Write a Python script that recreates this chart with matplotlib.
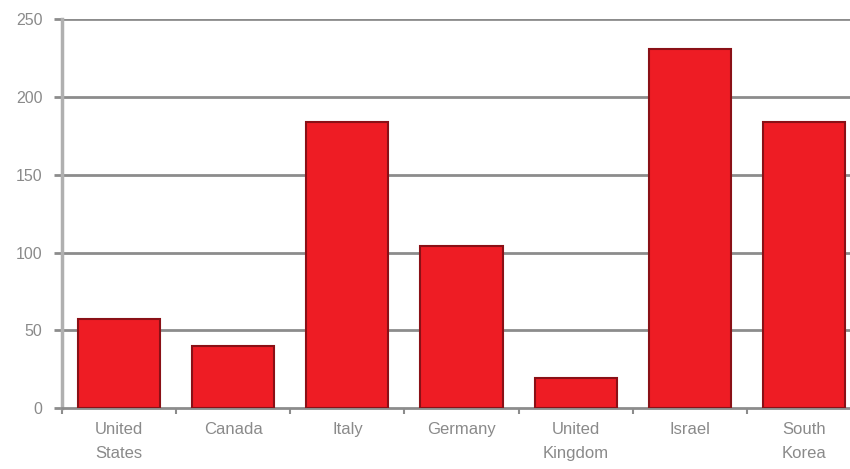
import numpy as np
import matplotlib
matplotlib.use("Agg")
import matplotlib.pyplot as plt

plt.rcParams['font.family'] = ['Liberation Sans', 'DejaVu Sans']

# 国家与数值
countries = ['United\nStates', 'Canada', 'Italy', 'Germany',
             'United\nKingdom', 'Israel', 'South\nKorea']
values = [57, 40, 184, 104, 19, 231, 184]
y_ticks = [0, 50, 100, 150, 200, 250]

bar_color = '#ee1c24'
edge_color = '#8a1016'
grid_color = '#8c8c8c'
text_color = '#8a8a8a'

fig = plt.figure(figsize=(8.5, 4.69), dpi=100)
ax = fig.add_axes([0.073, 0.130, 0.94, 0.829])

x = np.arange(len(countries))
ax.bar(x, values, width=0.72, color=bar_color, edgecolor=edge_color,
       linewidth=1.5, zorder=3)

ax.set_xlim(-0.5, len(countries) - 0.5)
ax.set_ylim(0, 250)
ax.set_yticks(y_ticks)
ax.set_yticklabels([str(t) for t in y_ticks])

# 网格线
for t in y_ticks[1:]:
    ax.axhline(t, color=grid_color, linewidth=2, zorder=1)

# x 轴刻度放在类别之间
ax.set_xticks(x)
ax.set_xticklabels(countries, fontsize=12, color=text_color, linespacing=1.75)
ax.tick_params(axis='x', length=0, pad=10)
ax.set_xticks(np.arange(len(countries) + 1) - 0.5, minor=True)
ax.tick_params(axis='x', which='minor', length=4, width=1.5, color=grid_color)

ax.tick_params(axis='y', length=6, width=2, color=grid_color,
               labelsize=11.5, labelcolor=text_color, pad=8)

for side in ['top', 'right']:
    ax.spines[side].set_visible(False)
ax.spines['left'].set_color('#b0b0b0')
ax.spines['left'].set_linewidth(2.5)
ax.spines['bottom'].set_color(grid_color)
ax.spines['bottom'].set_linewidth(2)

fig.savefig('out.png', dpi=100)
